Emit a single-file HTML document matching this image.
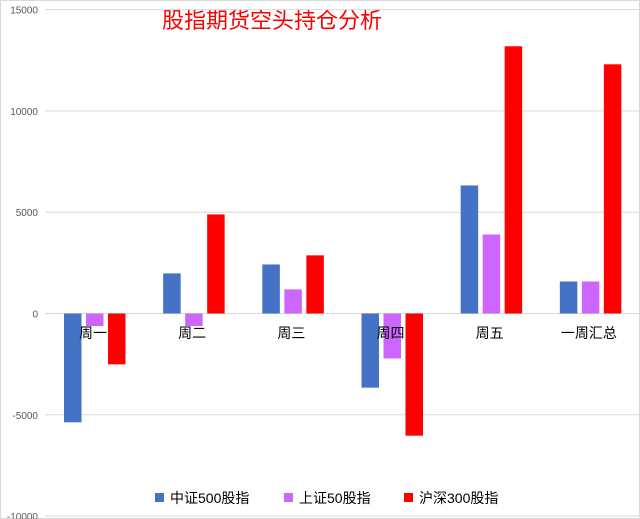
<!DOCTYPE html>
<html><head><meta charset="utf-8"><style>
body{margin:0;background:#fff;}
svg{display:block;font-family:"Liberation Sans","Noto Sans CJK SC",sans-serif;}
</style></head><body>
<svg id="c" width="640" height="519">
<rect x="0.5" y="0.5" width="639" height="518" fill="#fff" stroke="#d9d9d9"/>
<text x="272" y="28" font-size="22" fill="#ff0000" text-anchor="middle">股指期货空头持仓分析</text>
<g id="grid"></g><g id="bars"></g><g id="labels"></g>
<g>
<g><rect x="155" y="493" width="9" height="9" fill="#4472c4"/><text x="170" y="503" font-size="14">中证500股指</text></g>
<g><rect x="284" y="493" width="9" height="9" fill="#cc66ff"/><text x="299" y="503" font-size="14">上证50股指</text></g>
<g><rect x="404" y="493" width="9" height="9" fill="#ff0000"/><text x="419" y="503" font-size="14">沪深300股指</text></g>
</g>
</svg>
<script>
const categories=["周一","周二","周三","周四","周五","一周汇总"];
const zz500=[-5370,1980,2420,-3660,6320,1580];
const sz50=[-620,-620,1190,-2220,3900,1580];
const hs300=[-2510,4890,2870,-6030,13190,12300];
const ticks=[15000,10000,5000,0,-5000,-10000];
const NS="http://www.w3.org/2000/svg";
const x0=45,x1=640,y=v=>313.5-v*(101.3/5000);
const cw=(x1-x0)/categories.length;
function mk(t,a,p){const e=document.createElementNS(NS,t);for(const k in a)e.setAttribute(k,a[k]);p.appendChild(e);return e;}
const grid=document.getElementById('grid'),bars=document.getElementById('bars'),labels=document.getElementById('labels');
ticks.forEach(t=>{
 const l=mk('line',{x1:x0,x2:x1,y1:y(t),y2:y(t),stroke:'#d9d9d9'},grid);
 
 
 const tx=mk('text',{x:38,y:y(t)+4,'font-size':10,fill:'#595959','text-anchor':'end'},grid);
 tx.textContent=t;
 
 
});
const series=[[zz500,'#4472c4','zz500'],[sz50,'#cc66ff','sz50'],[hs300,'#ff0000','hs300']];
categories.forEach((c,i)=>{
 series.forEach((s,j)=>{
  const v=s[0][i],bx=x0+i*cw+19+j*22;
  const r=mk('rect',{x:bx,y:Math.min(y(v),y(0)),width:17.5,height:Math.abs(y(v)-y(0)),fill:s[1]},bars);
  
  
 });
 const t=mk('text',{x:x0+i*cw+48,y:338,'font-size':14,fill:'#000','text-anchor':'middle'},labels);
 t.textContent=c;
 
 
});
</script>
</body></html>
